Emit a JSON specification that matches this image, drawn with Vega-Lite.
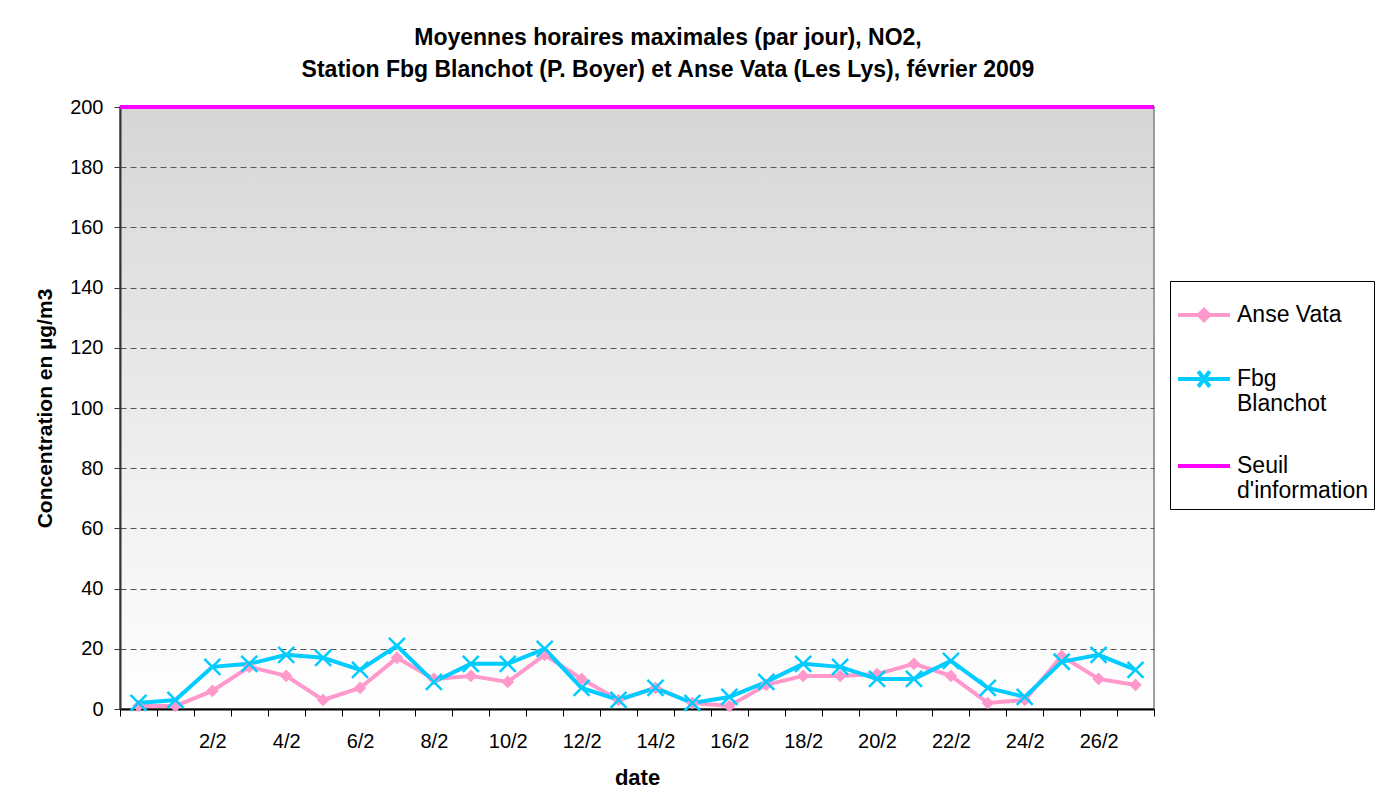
{
  "$schema": "https://vega.github.io/schema/vega-lite/v6.json",
  "autosize": "none",
  "padding": {"left": 120, "top": 107, "right": 233, "bottom": 103},
  "width": 1034,
  "height": 602,
  "background": "white",
  "title": {
    "text": ["Moyennes horaires maximales (par jour), NO2,", "Station Fbg Blanchot (P. Boyer) et Anse Vata (Les Lys), février 2009"],
    "font": "Liberation Sans",
    "fontSize": 23,
    "fontWeight": "bold",
    "lineHeight": 32,
    "anchor": "middle",
    "offset": 15,
    "dx": 31,
    "color": "black"
  },
  "config": {
    "font": "Liberation Sans",
    "view": {"stroke": "#808080", "strokeWidth": 1.5, "fill": {"gradient": "linear", "x1": 0, "y1": 0, "x2": 0, "y2": 1, "stops": [{"offset": 0, "color": "#d6d6d6"}, {"offset": 1, "color": "#ffffff"}]}}
  },
  "datasets": {
    "mesures": [
      {"date": "31/1", "series": "Anse Vata", "value": 1},
      {"date": "1/2", "series": "Anse Vata", "value": 1},
      {"date": "2/2", "series": "Anse Vata", "value": 6},
      {"date": "3/2", "series": "Anse Vata", "value": 14},
      {"date": "4/2", "series": "Anse Vata", "value": 11},
      {"date": "5/2", "series": "Anse Vata", "value": 3},
      {"date": "6/2", "series": "Anse Vata", "value": 7},
      {"date": "7/2", "series": "Anse Vata", "value": 17},
      {"date": "8/2", "series": "Anse Vata", "value": 10},
      {"date": "9/2", "series": "Anse Vata", "value": 11},
      {"date": "10/2", "series": "Anse Vata", "value": 9},
      {"date": "11/2", "series": "Anse Vata", "value": 18},
      {"date": "12/2", "series": "Anse Vata", "value": 10},
      {"date": "13/2", "series": "Anse Vata", "value": 3},
      {"date": "14/2", "series": "Anse Vata", "value": 7},
      {"date": "15/2", "series": "Anse Vata", "value": 2},
      {"date": "16/2", "series": "Anse Vata", "value": 1},
      {"date": "17/2", "series": "Anse Vata", "value": 8},
      {"date": "18/2", "series": "Anse Vata", "value": 11},
      {"date": "19/2", "series": "Anse Vata", "value": 11},
      {"date": "20/2", "series": "Anse Vata", "value": 11.6},
      {"date": "21/2", "series": "Anse Vata", "value": 15},
      {"date": "22/2", "series": "Anse Vata", "value": 11},
      {"date": "23/2", "series": "Anse Vata", "value": 2},
      {"date": "24/2", "series": "Anse Vata", "value": 3},
      {"date": "25/2", "series": "Anse Vata", "value": 17.6},
      {"date": "26/2", "series": "Anse Vata", "value": 10},
      {"date": "27/2", "series": "Anse Vata", "value": 8},
      {"date": "31/1", "series": "Fbg Blanchot", "value": 2},
      {"date": "1/2", "series": "Fbg Blanchot", "value": 3},
      {"date": "2/2", "series": "Fbg Blanchot", "value": 14},
      {"date": "3/2", "series": "Fbg Blanchot", "value": 15},
      {"date": "4/2", "series": "Fbg Blanchot", "value": 18},
      {"date": "5/2", "series": "Fbg Blanchot", "value": 17},
      {"date": "6/2", "series": "Fbg Blanchot", "value": 13},
      {"date": "7/2", "series": "Fbg Blanchot", "value": 21},
      {"date": "8/2", "series": "Fbg Blanchot", "value": 9},
      {"date": "9/2", "series": "Fbg Blanchot", "value": 15},
      {"date": "10/2", "series": "Fbg Blanchot", "value": 15},
      {"date": "11/2", "series": "Fbg Blanchot", "value": 20},
      {"date": "12/2", "series": "Fbg Blanchot", "value": 7},
      {"date": "13/2", "series": "Fbg Blanchot", "value": 3},
      {"date": "14/2", "series": "Fbg Blanchot", "value": 7},
      {"date": "15/2", "series": "Fbg Blanchot", "value": 2},
      {"date": "16/2", "series": "Fbg Blanchot", "value": 4},
      {"date": "17/2", "series": "Fbg Blanchot", "value": 9},
      {"date": "18/2", "series": "Fbg Blanchot", "value": 15},
      {"date": "19/2", "series": "Fbg Blanchot", "value": 14},
      {"date": "20/2", "series": "Fbg Blanchot", "value": 10},
      {"date": "21/2", "series": "Fbg Blanchot", "value": 10},
      {"date": "22/2", "series": "Fbg Blanchot", "value": 16},
      {"date": "23/2", "series": "Fbg Blanchot", "value": 7},
      {"date": "24/2", "series": "Fbg Blanchot", "value": 4},
      {"date": "25/2", "series": "Fbg Blanchot", "value": 15.7},
      {"date": "26/2", "series": "Fbg Blanchot", "value": 18},
      {"date": "27/2", "series": "Fbg Blanchot", "value": 13}
    ],
    "seuil": [
      {"series": "Seuil d'information", "value": 200}
    ]
  },
  "data": {"name": "mesures"},
  "encoding": {
    "x": {
      "field": "date",
      "type": "ordinal",
      "sort": null,
      "scale": {"paddingInner": 0, "paddingOuter": 0},
      "axis": {
        "title": "date",
        "titleFont": "Liberation Sans",
        "titleFontSize": 22,
        "titleFontWeight": "bold",
        "titleColor": "black",
        "titlePadding": 16,
        "labelAngle": 0,
        "labelFont": "Liberation Sans",
        "labelFontSize": 20,
        "labelColor": "black",
        "labelPadding": 15,
        "labelExpr": "indexof(['2/2','4/2','6/2','8/2','10/2','12/2','14/2','16/2','18/2','20/2','22/2','24/2','26/2'], datum.value) >= 0 ? datum.value : ''",
        "tickBand": "extent",
        "tickSize": 7,
        "tickColor": "black",
        "domainColor": "black",
        "domainWidth": 2,
        "grid": false
      }
    },
    "y": {
      "field": "value",
      "type": "quantitative",
      "scale": {"domain": [0, 200], "nice": false},
      "axis": {
        "title": "Concentration en µg/m3",
        "titleFont": "Liberation Sans",
        "titleFontSize": 21,
        "titleFontWeight": "bold",
        "titleColor": "black",
        "titlePadding": 14,
        "values": [0, 20, 40, 60, 80, 100, 120, 140, 160, 180, 200],
        "labelFont": "Liberation Sans",
        "labelFontSize": 20,
        "labelColor": "black",
        "labelPadding": 11,
        "tickSize": 6,
        "tickColor": "#333333",
        "domainColor": "#333333",
        "domainWidth": 2,
        "grid": true,
        "gridColor": "#555555",
        "gridDash": [6, 4],
        "gridWidth": 1
      }
    }
  },
  "layer": [
    {
      "mark": {"type": "line", "strokeWidth": 4},
      "encoding": {
        "color": {
          "field": "series",
          "type": "nominal",
          "scale": {"domain": ["Anse Vata", "Fbg Blanchot", "Seuil d'information"], "range": ["#ff99cc", "#00ccff", "#ff00ff"]},
          "legend": {
            "orient": "none",
            "legendX": 1050,
            "legendY": 174,
            "title": null,
            "fillColor": "white",
            "strokeColor": "black",
            "padding": 6,
            "labelFont": "Liberation Sans",
            "labelFontSize": 23,
            "labelColor": "black",
            "labelLimit": 300,
            "labelOffset": 5,
            "rowPadding": 22,
            "symbolSize": 2704,
            "symbolStrokeWidth": 4,
            "labelExpr": "datum.label == 'Fbg Blanchot' ? ['Fbg','Blanchot'] : datum.label == \"Seuil d'information\" ? ['Seuil',\"d'information\"] : datum.label",
            "encode": {
              "symbols": {
                "update": {
                  "shape": {"signal": "datum.value == 'Anse Vata' ? 'M-1,0H1M0,-0.2L0.2,0L0,0.2L-0.2,0Z' : datum.value == 'Fbg Blanchot' ? 'M-1,0H1M-0.22,-0.3L0.22,0.3M-0.22,0.3L0.22,-0.3' : 'M-1,0H1'"},
                  "fill": {"scale": "color", "field": "value"},
                  "stroke": {"scale": "color", "field": "value"},
                  "strokeWidth": {"value": 4},
                  "size": {"value": 2704}
                }
              }
            }
          }
        }
      }
    },
    {
      "transform": [{"filter": "datum.series == 'Anse Vata'"}],
      "mark": {"type": "point", "shape": "diamond", "filled": true, "color": "#ff99cc", "size": 160, "opacity": 1}
    },
    {
      "transform": [{"filter": "datum.series == 'Fbg Blanchot'"}],
      "mark": {"type": "point", "shape": "M-1,-1L1,1M-1,1L1,-1", "filled": false, "stroke": "#00ccff", "strokeWidth": 2.5, "size": 256, "opacity": 1}
    },
    {
      "data": {"name": "seuil"},
      "mark": {"type": "rule", "strokeWidth": 4},
      "encoding": {
        "x": null,
        "y": {"field": "value", "type": "quantitative"},
        "color": {"field": "series", "type": "nominal"}
      }
    }
  ]
}
